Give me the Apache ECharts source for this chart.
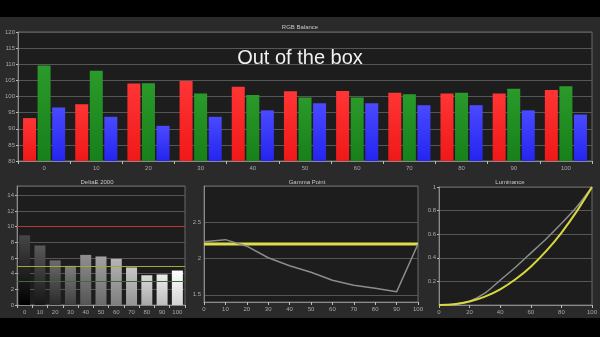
<!DOCTYPE html>
<html><head><meta charset="utf-8">
<script src="https://cdn.jsdelivr.net/npm/echarts@6/dist/echarts.min.js"></script>
<style>html,body{margin:0;padding:0;background:#000;}#c{width:600px;height:337px;}</style>
</head><body><div id="c"></div>
<script>
// ---- data ----
const rgbCategories = ['0','10','20','30','40','50','60','70','80','90','100'];
const redValues   = [93.3, 97.6, 104.0, 104.8, 103.0, 101.6, 101.7, 101.2, 100.9, 100.9, 102.0];
const greenValues = [109.6, 108.0, 104.1, 100.9, 100.5, 99.7, 99.7, 100.7, 101.2, 102.4, 103.2];
const blueValues  = [96.6, 93.7, 90.9, 93.7, 95.7, 97.9, 97.9, 97.3, 97.3, 95.7, 94.4];

const deltaECategories = ['0','10','20','30','40','50','60','70','80','90','100'];
const deltaEValues = [8.9, 7.6, 5.7, 5.0, 6.4, 6.2, 5.9, 4.8, 3.8, 3.9, 4.4];
const deltaELimits = [10, 5, 3];

const stimulus = [0, 10, 20, 30, 40, 50, 60, 70, 80, 90, 100];
const gammaMeasured = [2.23, 2.26, 2.17, 2.01, 1.90, 1.81, 1.70, 1.63, 1.59, 1.54, 2.20];
const gammaTarget   = [2.2, 2.2, 2.2, 2.2, 2.2, 2.2, 2.2, 2.2, 2.2, 2.2, 2.2];

const lumTarget   = [0, 0.006, 0.029, 0.071, 0.133, 0.218, 0.325, 0.456, 0.612, 0.793, 1];
const lumMeasured = [0, 0.006, 0.032, 0.10, 0.21, 0.32, 0.44, 0.56, 0.69, 0.83, 1];

const titles = ['RGB Balance', 'DeltaE 2000', 'Gamma Point', 'Luminance'];
const headline = 'Out of the box';

// ---- styling helpers ----
const FONT = 'Liberation Sans';
const labelStyle = {color: '#a8a8a8', fontSize: 6, fontFamily: FONT};
const axisLineStyle = {show: true, lineStyle: {color: '#8a8a8a', width: 1}};
const splitStyle = {show: true, lineStyle: {color: '#565656', width: 1}};
const gridBase = {show: true, backgroundColor: '#1d1d1d', borderColor: '#6a6a6a', borderWidth: 1, outerBoundsMode: 'none', containLabel: false};
const smallTitle = {color: '#c8c8c8', fontSize: 6, fontWeight: 'normal', fontFamily: FONT};

function pair(a) { return stimulus.map((x, i) => [x, a[i]]); }
function grad(top, bottom) {
  return new echarts.graphic.LinearGradient(0, 0, 0, 1, [{offset: 0, color: top}, {offset: 1, color: bottom}]);
}
function grey(v) { v = Math.max(0, Math.min(255, Math.round(v))); return 'rgb(' + v + ',' + v + ',' + v + ')'; }

const chart = echarts.init(document.getElementById('c'), null, {renderer: 'canvas'});
chart.setOption({
  backgroundColor: '#000',
  animation: false,
  graphic: [{type: 'rect', shape: {x: 0, y: 17, width: 600, height: 301}, style: {fill: '#2a2a2a'}, z: -10, silent: true}],
  title: [
    {text: titles[0], left: 300, top: 24, padding: 0, textAlign: 'center', textStyle: smallTitle},
    {text: headline, left: 300, top: 48, padding: 0, textAlign: 'center', textStyle: {color: '#f0f0f0', fontSize: 20, fontWeight: 'normal', fontFamily: FONT}},
    {text: titles[1], left: 97, top: 179, padding: 0, textAlign: 'center', textStyle: smallTitle},
    {text: titles[2], left: 307, top: 179, padding: 0, textAlign: 'center', textStyle: smallTitle},
    {text: titles[3], left: 510, top: 179, padding: 0, textAlign: 'center', textStyle: smallTitle}
  ],
  grid: [
    Object.assign({left: 18, top: 32, width: 574, height: 129}, gridBase),
    Object.assign({left: 17, top: 186, width: 168, height: 119}, gridBase),
    Object.assign({left: 204, top: 186, width: 214, height: 116}, gridBase),
    Object.assign({left: 439, top: 187, width: 153, height: 118}, gridBase)
  ],
  xAxis: [
    {gridIndex: 0, type: 'category', data: rgbCategories, axisLine: axisLineStyle,
     axisTick: {show: true, length: 3, lineStyle: {color: '#bbb'}}, axisLabel: Object.assign({margin: 4, interval: 0}, labelStyle)},
    {gridIndex: 1, type: 'category', data: deltaECategories, axisLine: axisLineStyle,
     axisTick: {show: true, length: 3, lineStyle: {color: '#bbb'}}, axisLabel: Object.assign({margin: 4, interval: 0}, labelStyle)},
    {gridIndex: 2, type: 'value', min: 0, max: 100, interval: 10, axisLine: axisLineStyle, splitLine: {show: false},
     axisTick: {show: true, length: 3, lineStyle: {color: '#bbb'}}, axisLabel: Object.assign({margin: 4}, labelStyle)},
    {gridIndex: 3, type: 'value', min: 0, max: 100, interval: 20, axisLine: axisLineStyle, splitLine: {show: false},
     axisTick: {show: true, length: 3, lineStyle: {color: '#bbb'}}, axisLabel: Object.assign({margin: 4}, labelStyle)}
  ],
  yAxis: [
    {gridIndex: 0, type: 'value', min: 80, max: 120, interval: 5, axisLine: axisLineStyle, splitLine: splitStyle,
     axisTick: {show: true, length: 2, lineStyle: {color: '#bbb'}}, axisLabel: Object.assign({margin: 3}, labelStyle)},
    {gridIndex: 1, type: 'value', min: 0, max: 15.2, interval: 2, axisLine: axisLineStyle, splitLine: splitStyle,
     axisTick: {show: true, length: 2, lineStyle: {color: '#bbb'}},
     axisLabel: Object.assign({margin: 3, showMaxLabel: false, formatter: v => (Math.abs(v % 2) < 1e-6 ? String(v) : '')}, labelStyle)},
    {gridIndex: 2, type: 'value', min: 1.4, max: 3.0, interval: 0.1, axisLine: axisLineStyle,
     splitLine: {show: true, lineStyle: {color: ['rgba(0,0,0,0)', '#565656', 'rgba(0,0,0,0)', 'rgba(0,0,0,0)', 'rgba(0,0,0,0)']}},
     axisTick: {show: false},
     axisLabel: Object.assign({margin: 3, formatter: v => (Math.abs(v * 2 - Math.round(v * 2)) < 1e-6 && v < 2.9 ? String(+v.toFixed(1)) : '')}, labelStyle)},
    {gridIndex: 3, type: 'value', min: 0, max: 1, interval: 0.2, axisLine: axisLineStyle, splitLine: splitStyle,
     axisTick: {show: true, length: 2, lineStyle: {color: '#bbb'}},
     axisLabel: Object.assign({margin: 3, showMinLabel: false}, labelStyle)}
  ],
  series: [
    {type: 'bar', xAxisIndex: 0, yAxisIndex: 0, data: redValues, barWidth: 13, barGap: '12%',
     itemStyle: {color: grad('#ff3535', '#f01818')}},
    {type: 'bar', xAxisIndex: 0, yAxisIndex: 0, data: greenValues, barWidth: 13, barGap: '12%',
     itemStyle: {color: grad('#2a9a2a', '#17801a')}},
    {type: 'bar', xAxisIndex: 0, yAxisIndex: 0, data: blueValues, barWidth: 13, barGap: '12%',
     itemStyle: {color: grad('#4a4aff', '#2424f0')}},
    {type: 'bar', xAxisIndex: 1, yAxisIndex: 1, data: deltaEValues, barWidth: 11,
     itemStyle: {color: p => grad(grey(70 + p.dataIndex * 18.5), grey(p.dataIndex * 21))},
     markLine: {silent: true, symbol: 'none', label: {show: false},
       data: [
         {yAxis: deltaELimits[0], lineStyle: {color: '#b83838', width: 1.2, type: 'solid'}},
         {yAxis: deltaELimits[1], lineStyle: {color: '#a8a838', width: 1.2, type: 'solid'}},
         {yAxis: deltaELimits[2], lineStyle: {color: '#3c6a3c', width: 1, type: 'solid'}}
       ]}},
    {type: 'line', xAxisIndex: 2, yAxisIndex: 2, data: pair(gammaTarget), showSymbol: false,
     lineStyle: {color: '#dede4a', width: 3}, z: 3},
    {type: 'line', xAxisIndex: 2, yAxisIndex: 2, data: pair(gammaMeasured), showSymbol: false,
     lineStyle: {color: '#8c8c8c', width: 1.5}, z: 4},
    {type: 'line', xAxisIndex: 3, yAxisIndex: 3, data: pair(lumMeasured), showSymbol: false, smooth: 0.2,
     lineStyle: {color: '#8c8c8c', width: 1.5}, z: 3},
    {type: 'line', xAxisIndex: 3, yAxisIndex: 3, data: pair(lumTarget), showSymbol: false, smooth: 0.3,
     lineStyle: {color: '#d8d840', width: 2}, z: 4}
  ]
});
</script>
</body></html>
